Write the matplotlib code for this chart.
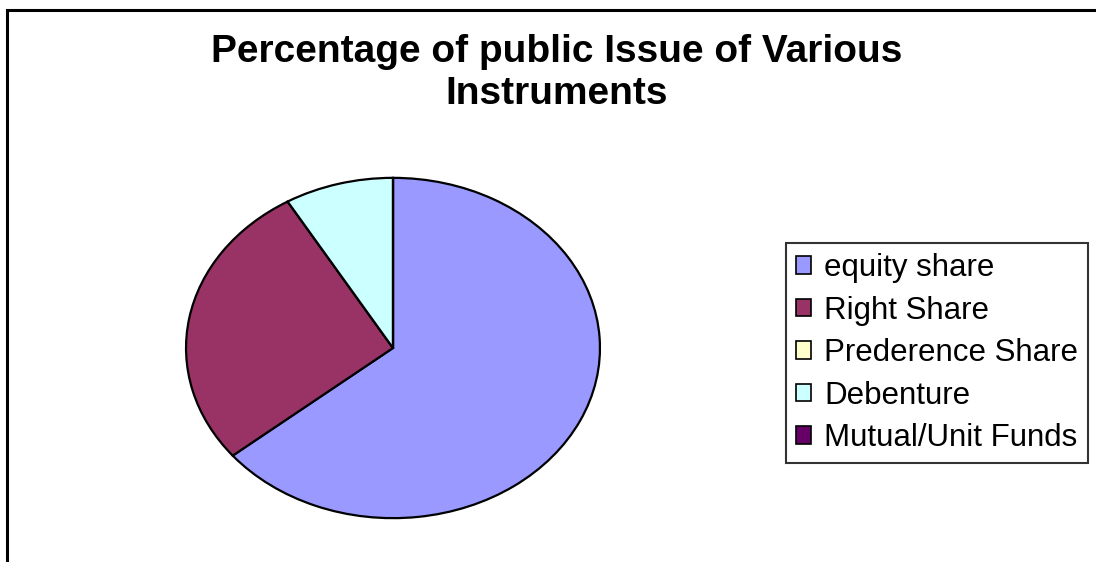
import matplotlib
matplotlib.use('Agg')
import matplotlib.pyplot as plt
from matplotlib.patches import Patch, Rectangle

# data (percent of total)
labels = ['equity share', 'Right Share', 'Prederence Share', 'Debenture', 'Mutual/Unit Funds']
values = [64.1, 27.4, 0.0, 8.5, 0.0]
colors = ['#9999FF', '#993366', '#FFFFCC', '#CCFFFF', '#660066']

W, H = 1096, 562
plt.rcParams['font.family'] = ['Liberation Sans', 'DejaVu Sans']

fig = plt.figure(figsize=(W / 100, H / 100), dpi=100)

# outer chart frame (right and bottom run off the image)
fig.patches.append(Rectangle((6.5 / W, -0.05), 1.1, 1 - 10 / H + 0.05,
                             transform=fig.transFigure, fill=False,
                             edgecolor='black', linewidth=2.2))

fig.text(557 / W, 1 - 73 / H, 'Percentage of public Issue of Various\nInstruments',
         ha='center', va='center', fontsize=28, fontweight='bold', linespacing=1.2)

# pie is an ellipse: centre (393, 348), radii 208 x 171 px
cx, cy, rx, ry = 393, 348, 208, 171
ax = fig.add_axes([(cx - rx) / W, (H - cy - ry) / H, 2 * rx / W, 2 * ry / H])
ax.pie(values, colors=colors, startangle=90, counterclock=False, radius=1,
       wedgeprops=dict(edgecolor='black', linewidth=1.6))
ax.set_aspect('auto')
ax.set_xlim(-1.005, 1.005)
ax.set_ylim(-1.005, 1.005)
ax.axis('off')

handles = [Patch(facecolor=c, edgecolor='black', linewidth=1.2) for c in colors]
leg = fig.legend(handles, labels, loc='upper left',
                 bbox_to_anchor=(786 / W, 1 - 243 / H), borderaxespad=0,
                 fontsize=22.5, frameon=True, fancybox=False, shadow=False,
                 handlelength=0.48, handleheight=0.48, handletextpad=0.42,
                 labelspacing=0.4, borderpad=0.32)
leg.get_frame().set_edgecolor('black')
leg.get_frame().set_linewidth(1.5)

fig.savefig('out.png', dpi=100)
